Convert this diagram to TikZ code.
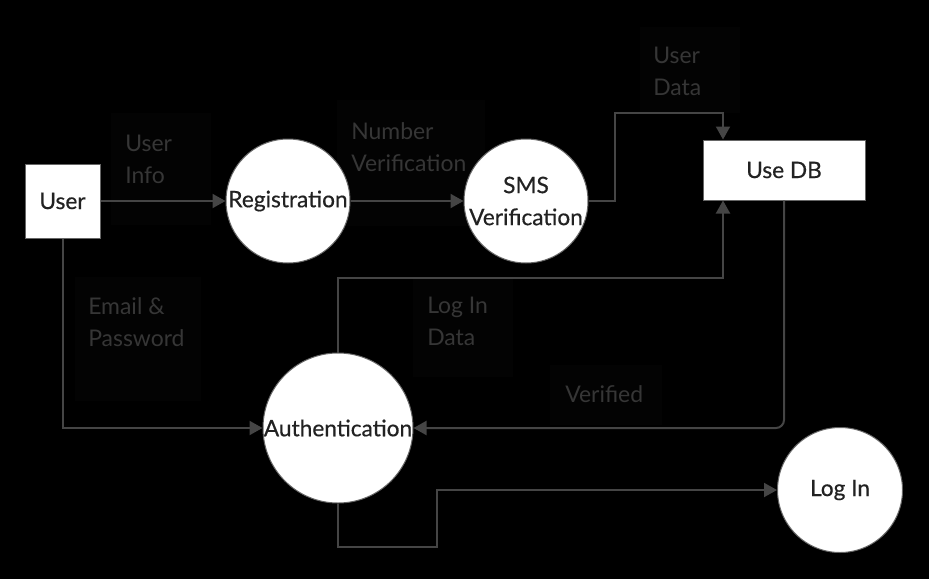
\documentclass[tikz,border=0pt]{standalone}
\usepackage{fontspec}
\setmainfont{Lato}
\newfontfamily\nodefont[FakeBold=0.5]{Lato}
\usetikzlibrary{arrows.meta, calc}

\definecolor{flowgray}{HTML}{454545}
\definecolor{lblgray}{HTML}{363636}
\definecolor{lblbg}{HTML}{030303}
\definecolor{nodetext}{HTML}{222222}

\begin{document}
\begin{tikzpicture}[x=0.75pt, y=-0.75pt,
		every node/.style={font=\fontsize{17.2pt}{24pt}\selectfont},
		entity/.style={rectangle, draw=black!60, fill=white, text=nodetext, line width=0.75pt, font=\nodefont\fontsize{17pt}{24pt}\selectfont},
		process/.style={circle, draw=black!60, fill=white, text=nodetext, align=center, inner sep=0pt, line width=0.75pt, font=\nodefont\fontsize{17pt}{24pt}\selectfont},
		lblbox/.style={rectangle, fill=lblbg, anchor=north west, inner sep=0pt},
		lbltext/.style={text=lblgray, align=left, anchor=north west, inner sep=0pt},
		flow/.style={draw=flowgray, line width=1.5pt, -{Triangle[length=9.75pt, width=10.5pt]}}
		]
		\fill [black] (0,0) rectangle (929,579);
		\useasboundingbox (0,0) rectangle (929,579);
		% label backgrounds
		\node [lblbox, minimum width=75pt, minimum height=84pt] (infobox) at (111,113) {};
		\node [lblbox, minimum width=111pt, minimum height=94pt] (numbox) at (337,100) {};
		\node [lblbox, minimum width=75pt, minimum height=64.5pt] (databox) at (640,27) {};
		\node [lblbox, minimum width=94pt, minimum height=93pt] (mailbox) at (75,277) {};
		\node [lblbox, minimum width=75pt, minimum height=75pt] (logbox) at (413,277) {};
		\node [lblbox, minimum width=84pt, minimum height=45pt] (verbox) at (550,365) {};
		% labels
		\node [lbltext] (info) at (125,135) {User\\Info};
		\node [lbltext] (num) at (351,122) {Number\\Verification};
		\node [lbltext] (data) at (653,47) {User\\Data};
		\node [lbltext] (mail) at (88,297) {Email \&\\Password};
		\node [lbltext] (logdata) at (427,297) {Log In\\Data};
		\node [lbltext] (verified) at (565,385) {Verified};
		% nodes
		\node [entity, minimum width=56.25pt, minimum height=55.5pt] (user) at (62.5,201) {User};
		\node [process, minimum size=93pt] (reg) at (288,201) {Registration};
		\node [process, minimum size=93pt] (sms) at (526,201) {SMS\\Verification};
		\node [entity, minimum width=121.5pt, minimum height=45pt] (userdb) at (784,170) {Use DB};
		\node [process, minimum size=112.5pt] (auth) at (338,428) {Authentication};
		\node [process, minimum size=93.75pt] (login) at (840,490) {Log In};
		% connectors
		\draw [flow] (user) -- (reg);
		\draw [flow] (reg) -- (sms);
		\draw [flow] (sms.east) -- ++(26,0) |- ($(userdb.north)+(-61,-27)$) -- ($(userdb.north)+(-61,0)$);
		\draw [flow] (auth.north) |- ($(userdb.south)+(-61,77)$) -- ($(userdb.south)+(-61,0)$);
		\draw [flow, rounded corners=6pt] (userdb.south) |- (auth.east);
		\draw [flow] (user.south) |- (auth.west);
		\draw [flow] (auth.south) -- ++(0,43) -- ++(99,0) |- (login.west);
	\end{tikzpicture}
\end{document}
